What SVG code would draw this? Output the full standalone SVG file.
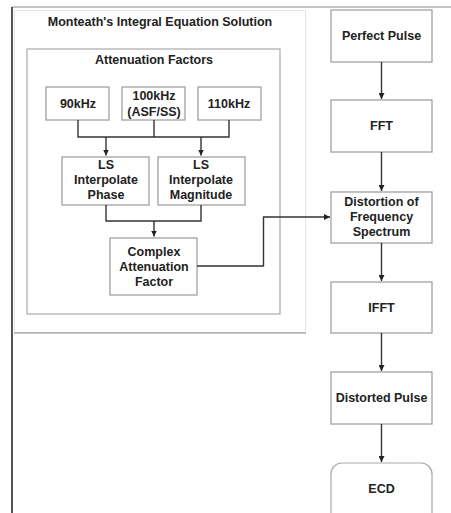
<svg xmlns="http://www.w3.org/2000/svg" width="451" height="513" viewBox="0 0 451 513">
<defs>
<style>
text{font-family:"Liberation Sans",Arial,sans-serif;font-weight:bold;font-size:12.5px;fill:#222;text-anchor:middle}
.box{fill:#fff;stroke:#999;stroke-width:1.2}
.c{fill:none;stroke:#333;stroke-width:1.4}
</style>
<marker id="ah" viewBox="0 0 10 10" refX="10" refY="5" markerWidth="6" markerHeight="6" markerUnits="userSpaceOnUse" orient="auto"><path d="M0,0L10,5L0,10z" fill="#222"/></marker>
</defs>
<rect width="451" height="513" fill="#fff"/>
<g id="frame">
<line x1="12" y1="7" x2="451" y2="7" stroke="#888" stroke-width="1.2"/>
<line x1="12" y1="7" x2="12" y2="513" stroke="#555" stroke-width="2"/>
</g>
<g id="monteath">
<path d="M14.5,10.5H305.5V332.5H14.5Z" fill="none" stroke="#e4e4e4" stroke-width="1"/>
<line x1="14" y1="333" x2="306" y2="333" stroke="#888" stroke-width="1.2"/>
<text x="160" y="26" font-size="12.5">Monteath's Integral Equation Solution</text>
</g>
<g id="attenuation">
<rect x="27" y="49" width="253" height="265" fill="none" stroke="#aaa" stroke-width="1.2"/>
<text x="154" y="64">Attenuation Factors</text>
</g>
<g id="f90"><rect class="box" x="46" y="87" width="63" height="33"/><text x="78" y="108">90kHz</text></g>
<g id="f100"><rect class="box" x="122" y="87" width="63" height="33"/><text x="154" y="100">100kHz</text><text x="154" y="116">(ASF/SS)</text></g>
<g id="f110"><rect class="box" x="198" y="87" width="63" height="33"/><text x="229" y="108">110kHz</text></g>
<g id="lsphase"><rect class="box" x="62" y="157" width="87" height="48"/><text x="106" y="169">LS</text><text x="106" y="184">Interpolate</text><text x="106" y="199">Phase</text></g>
<g id="lsmag"><rect class="box" x="158" y="157" width="87" height="48"/><text x="201" y="169">LS</text><text x="201" y="184">Interpolate</text><text x="201" y="199">Magnitude</text></g>
<g id="complex"><rect class="box" x="110" y="238" width="87" height="57"/><text x="154" y="256">Complex</text><text x="154" y="271">Attenuation</text><text x="154" y="286">Factor</text></g>
<g id="perfect"><rect class="box" x="331" y="10" width="101" height="52"/><text x="381.5" y="40">Perfect Pulse</text></g>
<g id="fft"><rect class="box" x="331" y="100" width="101" height="52"/><text x="381.5" y="130">FFT</text></g>
<g id="distortion"><rect class="box" x="331" y="192" width="101" height="51"/><text x="381.5" y="206">Distortion of</text><text x="381.5" y="221">Frequency</text><text x="381.5" y="236">Spectrum</text></g>
<g id="ifft"><rect class="box" x="331" y="282" width="101" height="51"/><text x="381.5" y="312">IFFT</text></g>
<g id="distorted"><rect class="box" x="331" y="372" width="101" height="52"/><text x="381.5" y="402">Distorted Pulse</text></g>
<g id="ecd"><rect x="331" y="463" width="101" height="70" rx="11" fill="#fff" stroke="#aaa" stroke-width="1.2"/><text x="381.5" y="493">ECD</text></g>
<g id="connectors">
<path class="c" d="M78,120V137H229V120M154,120V137"/>
<path class="c" d="M106,137V155.5" marker-end="url(#ah)"/>
<path class="c" d="M201,137V155.5" marker-end="url(#ah)"/>
<path class="c" d="M106,205V221H201V205"/>
<path class="c" d="M154,221V236.5" marker-end="url(#ah)"/>
<path class="c" d="M197,266H263.5V217H330" marker-end="url(#ah)"/>
<path class="c" d="M381.5,62V99" marker-end="url(#ah)"/>
<path class="c" d="M381.5,152V191" marker-end="url(#ah)"/>
<path class="c" d="M381.5,243V281" marker-end="url(#ah)"/>
<path class="c" d="M381.5,333V371" marker-end="url(#ah)"/>
<path class="c" d="M381.5,424V462" marker-end="url(#ah)"/>
</g>
</svg>
